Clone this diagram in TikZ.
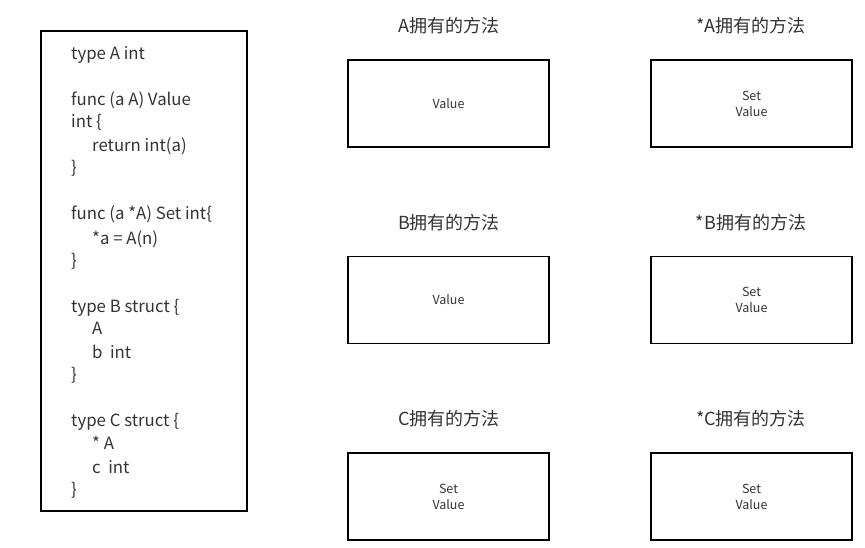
\documentclass[tikz,border=0pt]{standalone}
\usepackage{fontspec}
\setmainfont{Noto Sans CJK SC}
\definecolor{txt}{HTML}{333333}
\begin{document}
\begin{tikzpicture}[x=1pt,y=-1pt,
  frame/.style={draw=black,line width=1.4pt},
  code/.style={anchor=base west,inner sep=0pt,text=txt,font=\fontsize{16.8}{19}\selectfont},
  title/.style={inner sep=0pt,text=txt,font=\fontsize{18}{20}\selectfont},
  method/.style={frame,minimum width=201pt,minimum height=87pt,inner sep=0pt,align=center,text=txt,font=\fontsize{12.5}{16}\selectfont}]
\useasboundingbox (0,0) rectangle (865,548);
\node[frame,minimum width=206pt,minimum height=480pt,inner sep=0pt] (codebox) at (144,271) {};
\node[code] (l1) at (71,60) {type A int};
\node[code] (l2) at (71,106) {func (a A) Value};
\node[code] (l3) at (71,128) {int \{};
\node[code] (l4) at (92,152) {return int(a)};
\node[code] (l5) at (71,174) {\}};
\node[code] (l6) at (71,220) {func (a *A) Set int\{};
\node[code] (l7) at (92,244) {*a = A(n)};
\node[code] (l8) at (71,266) {\}};
\node[code] (l9) at (71,312) {type B struct \{};
\node[code] (l10) at (92,334) {A};
\node[code] (l11) at (92,358) {b\ \ int};
\node[code] (l12) at (71,380) {\}};
\node[code] (l13) at (71,426) {type C struct \{};
\node[code] (l14) at (92,449) {* A};
\node[code] (l15) at (92,473) {c\ \ int};
\node[code] (l16) at (71,495) {\}};
\node[title] (ta) at (449,26) {A拥有的方法};
\node[title] (tpa) at (751,26) {*A拥有的方法};
\node[title] (tb) at (449,223) {B拥有的方法};
\node[title] (tpb) at (751,223) {*B拥有的方法};
\node[title] (tc) at (449,419) {C拥有的方法};
\node[title] (tpc) at (751,419) {*C拥有的方法};
\node[method] (ma) at (448.5,103.5) {Value};
\node[method] (mpa) at (751.5,103.5) {Set\\Value};
\node[method] (mb) at (448.5,300) {Value};
\node[method] (mpb) at (751.5,300) {Set\\Value};
\node[method] (mc) at (448.5,496.5) {Set\\Value};
\node[method] (mpc) at (751.5,496.5) {Set\\Value};
\end{tikzpicture}
\end{document}
